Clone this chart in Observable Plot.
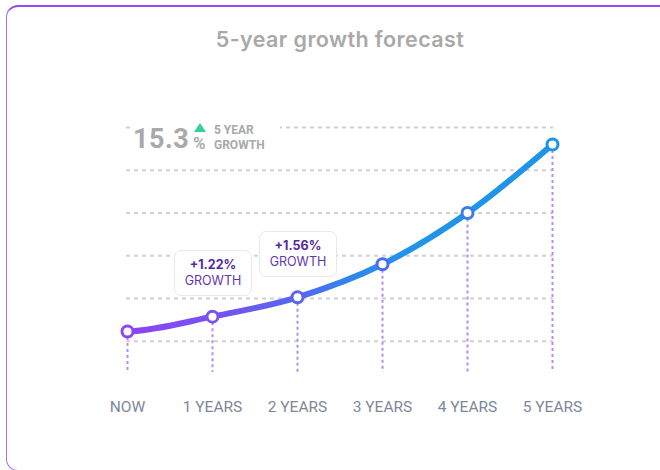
<!DOCTYPE html>
<html>
<head>
<meta charset="utf-8">
<script src="https://cdn.jsdelivr.net/npm/d3@7"></script>
<script src="https://cdn.jsdelivr.net/npm/@observablehq/plot@0.6"></script>
<style>
  html, body { margin: 0; padding: 0; background: #fff; width: 660px; height: 470px; overflow: hidden; }
  #clip { position: absolute; left: 0; top: 0; width: 660px; height: 470px; overflow: hidden; }
  #card { position: absolute; left: 6px; top: 5px; width: 760px; height: 466px; border: 1.5px solid #9d72f5; border-top: 2px solid #8a4cf5; border-radius: 12px; box-sizing: border-box; }
  #title { position: absolute; left: 0; top: 26px; width: 680px; text-align: center; font-family: Inter, "Open Sans", sans-serif; font-weight: 600; font-size: 21.5px; color: #a9a9a9; letter-spacing: 0.4px; }
  #chart { position: absolute; left: 0; top: 70px; }
  #big { position: absolute; left: 130px; top: 120px; width: 150px; height: 36px; background: #fff; font-family: Roboto, sans-serif; color: #a9a9a9; }
  .ann { position: absolute; background: #fff; border: 1.5px solid #e8e8ee; border-radius: 7px; box-sizing: border-box; text-align: center; font-family: Inter, "Open Sans", sans-serif; color: #6236b0; font-size: 12.5px; line-height: 16px; padding-top: 6px; }
  .ann b { display: block; color: #55289e; font-weight: 700; }
</style>
</head>
<body>
<div id="clip"><div id="card"></div></div>
<div id="title">5-year growth forecast</div>
<div id="chart"></div>
<div id="big"></div>
<script>
const categories = ["NOW", "1 YEARS", "2 YEARS", "3 YEARS", "4 YEARS", "5 YEARS"];
const values = [100, 101.22, 102.80, 105.5, 109.7, 115.3];
const gridValues = [99.2, 102.7, 106.2, 109.7, 113.2, 116.7];
const growthLabels = [
  {cat: "1 YEARS", value: 101.22, label: "+1.22%"},
  {cat: "2 YEARS", value: 102.80, label: "+1.56%"}
];
const totalGrowth = "15.3";
const yDomain = [96.65, 118];

const data = categories.map((c, i) => ({cat: c, value: values[i]}));
const dotColors = ["#8a47f2", "#7a52f0", "#5b64ef", "#4a6cf0", "#3a7cee", "#1f92e8"];

// Monotone cubic curve with an eased (nearly flat) start, as a d3 curve factory
function easedMonotone(context) {
  return {
    areaStart() {}, areaEnd() {},
    lineStart() { this.p = []; },
    point(x, y) { this.p.push([+x, +y]); },
    lineEnd() {
      const p = this.p, n = p.length;
      if (!n) return;
      context.moveTo(p[0][0], p[0][1]);
      if (n === 1) return;
      const s = [], m = new Array(n);
      for (let i = 0; i < n - 1; i++) s.push((p[i + 1][1] - p[i][1]) / (p[i + 1][0] - p[i][0]));
      for (let i = 1; i < n - 1; i++) {
        const h0 = p[i][0] - p[i - 1][0], h1 = p[i + 1][0] - p[i][0];
        const pp = (s[i - 1] * h1 + s[i] * h0) / (h0 + h1);
        m[i] = (Math.sign(s[i - 1]) + Math.sign(s[i])) * Math.min(Math.abs(s[i - 1]), Math.abs(s[i]), 0.5 * Math.abs(pp)) || 0;
      }
      m[0] = 0.25 * s[0];
      m[n - 1] = n > 2 ? (3 * s[n - 2] - m[n - 2]) / 2 : s[0];
      for (let i = 0; i < n - 1; i++) {
        const h = (p[i + 1][0] - p[i][0]) / 3;
        context.bezierCurveTo(p[i][0] + h, p[i][1] + m[i] * h, p[i + 1][0] - h, p[i + 1][1] - m[i + 1] * h, p[i + 1][0], p[i + 1][1]);
      }
    }
  };
}

const defs = (index, scales) => {
  const x1 = scales.x(categories[0]);
  const x2 = scales.x(categories[categories.length - 1]);
  const g = d3.create("svg:defs");
  const lg = g.append("linearGradient").attr("id", "lineGrad")
    .attr("gradientUnits", "userSpaceOnUse")
    .attr("x1", x1).attr("x2", x2).attr("y1", 0).attr("y2", 0);
  lg.append("stop").attr("offset", "0%").attr("stop-color", "#8a45f3");
  lg.append("stop").attr("offset", "22%").attr("stop-color", "#7653f1");
  lg.append("stop").attr("offset", "42%").attr("stop-color", "#4f6bf0");
  lg.append("stop").attr("offset", "55%").attr("stop-color", "#2a8bea");
  lg.append("stop").attr("offset", "70%").attr("stop-color", "#2095e8");
  lg.append("stop").attr("offset", "100%").attr("stop-color", "#1c94e8");
  return g.node();
};

const chart = Plot.plot({
  width: 660,
  height: 380,
  marginLeft: 126,
  marginRight: 107,
  marginTop: 41,
  marginBottom: 78,
  style: {fontFamily: "Roboto, sans-serif", fontSize: "15px", background: "transparent"},
  x: {type: "point", domain: categories, padding: 0, label: null},
  y: {domain: yDomain, axis: null},
  marks: [
    defs,
    Plot.ruleY(gridValues, {stroke: "#cfd0d8", strokeWidth: 2, strokeDasharray: "4,4"}),
    Plot.ruleX(data, {x: "cat", y1: "value", y2: yDomain[0], stroke: "#b38cf6", strokeWidth: 2, strokeDasharray: "3,3"}),
    Plot.line(data, {x: "cat", y: "value", curve: easedMonotone, stroke: "url(#lineGrad)", strokeWidth: 6, strokeLinecap: "round"}),
    Plot.dot(data, {x: "cat", y: "value", r: 5.5, fill: "white", stroke: (d, i) => dotColors[i], strokeWidth: 3}),
    Plot.axisX({tickSize: 0, tickPadding: 28, fill: "#7d8799", fontSize: 15.5, fontWeight: 400})
  ]
});
document.getElementById("chart").appendChild(chart);

const sx = chart.scale("x"), sy = chart.scale("y");
growthLabels.forEach(g => {
  const cx = sx.apply(g.cat), cy = sy.apply(g.value) + 70;
  const div = document.createElement("div");
  div.className = "ann";
  div.style.left = (cx - 38) + "px";
  div.style.top = (cy - 66) + "px";
  div.style.width = "78px";
  div.style.height = "46px";
  div.innerHTML = `<b>${g.label}</b>GROWTH`;
  document.body.appendChild(div);
});

const big = document.getElementById("big");
big.innerHTML = `
  <span style="position:absolute;left:3px;top:3px;font-size:27px;font-weight:700;letter-spacing:0.5px">${totalGrowth}</span>
  <svg style="position:absolute;left:63px;top:3px" width="14" height="10"><path d="M7 0 L13 9 L1 9 Z" fill="#33cf9c"/></svg>
  <span style="position:absolute;left:63px;top:13px;font-size:17px;font-weight:600">%</span>
  <span style="position:absolute;left:84px;top:3px;font-size:12px;font-weight:700;line-height:15px">5 YEAR<br>GROWTH</span>
`;
</script>
</body>
</html>
